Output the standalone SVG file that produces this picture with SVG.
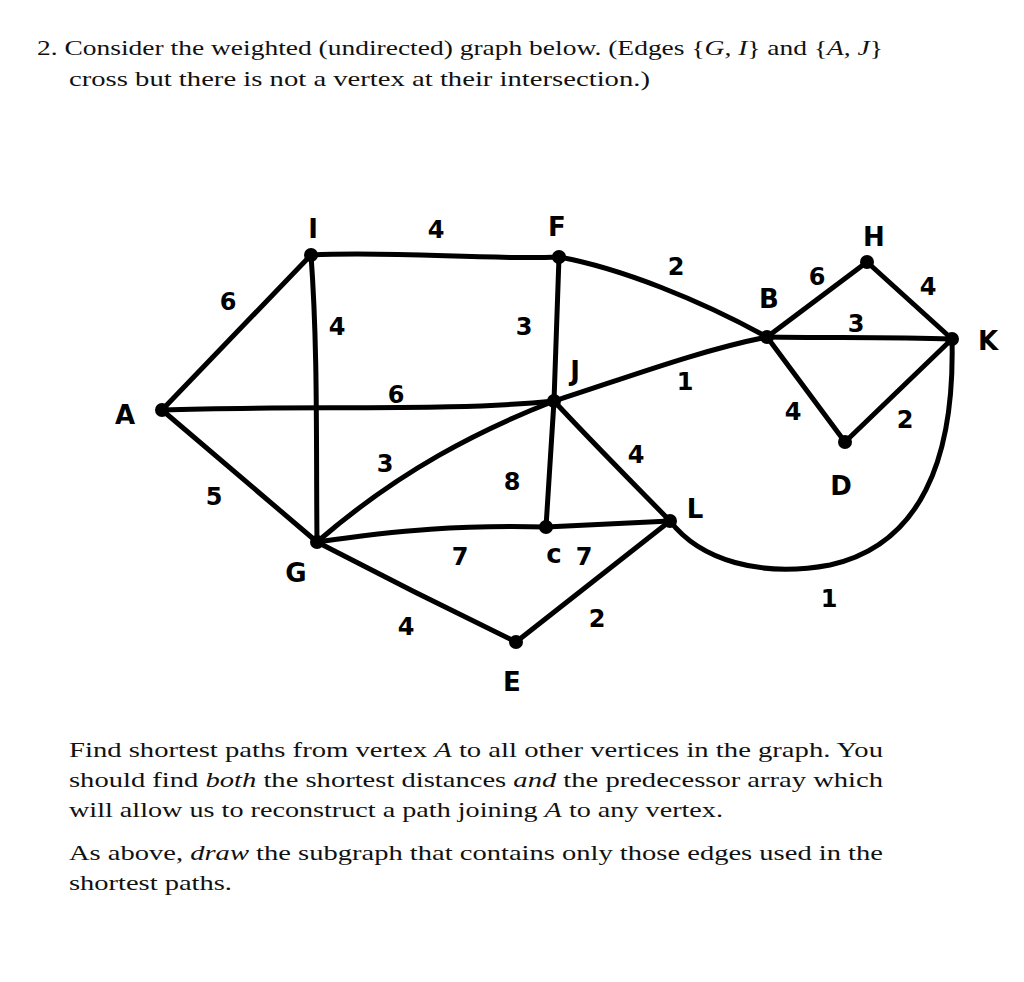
<svg xmlns="http://www.w3.org/2000/svg" width="1024" height="982" viewBox="0 0 1024 982">
<style>
.q{font-family:"Liberation Serif","DejaVu Serif",serif;font-size:22px;fill:#111}
.e{stroke:#000;stroke-width:5;fill:none;stroke-linecap:round;stroke-linejoin:round}
.v{fill:#000}
.lb{font-family:"DejaVu Sans","Liberation Sans",sans-serif;font-weight:bold;font-size:26px;fill:#000;text-anchor:middle}
.w{font-family:"DejaVu Sans","Liberation Sans",sans-serif;font-weight:bold;font-size:24px;fill:#000;text-anchor:middle}
</style>
<rect width="1024" height="982" fill="#fff"/>
<text class="q" x="37" y="55" textLength="846" lengthAdjust="spacingAndGlyphs">2.  Consider the weighted (undirected) graph below. (Edges {<tspan font-style="italic">G, I</tspan>} and {<tspan font-style="italic">A, J</tspan>}</text>
<text class="q" x="69" y="86" textLength="581" lengthAdjust="spacingAndGlyphs">cross but there is not a vertex at their intersection.)</text>
<g id="connectors">
<path class="e" d="M162,410 L311,255"/>
<path class="e" d="M162,410 C300,405 450,412 554,401"/>
<path class="e" d="M162,410 L317,542"/>
<path class="e" d="M311,255 C400,251 480,260 559,257"/>
<path class="e" d="M311,255 C318,350 316,450 317,542"/>
<path class="e" d="M559,257 L554,401"/>
<path class="e" d="M559,257 C620,268 700,300 767,337"/>
<path class="e" d="M554,401 C620,380 700,350 767,337"/>
<path class="e" d="M554,401 C480,430 400,470 317,542"/>
<path class="e" d="M554,401 L546,527"/>
<path class="e" d="M554,401 C590,440 630,480 670,521"/>
<path class="e" d="M317,542 C400,530 460,525 546,527 L670,521"/>
<path class="e" d="M317,542 C390,580 450,610 516,642"/>
<path class="e" d="M516,642 C570,600 620,560 670,521"/>
<path class="e" d="M767,337 L867,262 L952,339"/>
<path class="e" d="M767,337 C830,338 890,337 952,339"/>
<path class="e" d="M767,337 L845,442 L952,339"/>
<path class="e" d="M670,521 C700,560 760,578 830,565 C920,545 955,460 952,339"/>
</g>
<g id="node-A"><circle class="v" cx="162" cy="410" r="7"/><text class="lb" x="125" y="424">A</text></g>
<g id="node-I"><circle class="v" cx="311" cy="255" r="7"/><text class="lb" x="313" y="238">I</text></g>
<g id="node-F"><circle class="v" cx="559" cy="257" r="7"/><text class="lb" x="557" y="236">F</text></g>
<g id="node-J"><circle class="v" cx="554" cy="401" r="7"/><text class="lb" x="575" y="380">J</text></g>
<g id="node-B"><circle class="v" cx="767" cy="337" r="7"/><text class="lb" x="769" y="308">B</text></g>
<g id="node-H"><circle class="v" cx="867" cy="262" r="7"/><text class="lb" x="874" y="246">H</text></g>
<g id="node-K"><circle class="v" cx="952" cy="339" r="7"/><text class="lb" x="988" y="350">K</text></g>
<g id="node-D"><circle class="v" cx="845" cy="442" r="7"/><text class="lb" x="841" y="495">D</text></g>
<g id="node-L"><circle class="v" cx="670" cy="521" r="7"/><text class="lb" x="695" y="518">L</text></g>
<g id="node-C"><circle class="v" cx="546" cy="527" r="7"/><text class="lb" x="554" y="563">c</text></g>
<g id="node-G"><circle class="v" cx="317" cy="542" r="7"/><text class="lb" x="296" y="582">G</text></g>
<g id="node-E"><circle class="v" cx="516" cy="642" r="7"/><text class="lb" x="512" y="691">E</text></g>
<g id="weights">
<text class="w" x="436" y="238">4</text>
<text class="w" x="228" y="310">6</text>
<text class="w" x="337" y="335">4</text>
<text class="w" x="524" y="335">3</text>
<text class="w" x="676" y="275">2</text>
<text class="w" x="817" y="285">6</text>
<text class="w" x="928" y="295">4</text>
<text class="w" x="856" y="332">3</text>
<text class="w" x="685" y="390">1</text>
<text class="w" x="396" y="403">6</text>
<text class="w" x="793" y="420">4</text>
<text class="w" x="905" y="428">2</text>
<text class="w" x="385" y="472">3</text>
<text class="w" x="636" y="463">4</text>
<text class="w" x="512" y="490">8</text>
<text class="w" x="214" y="505">5</text>
<text class="w" x="460" y="565">7</text>
<text class="w" x="584" y="565">7</text>
<text class="w" x="406" y="635">4</text>
<text class="w" x="597" y="627">2</text>
<text class="w" x="829" y="607">1</text>
</g>
<text class="q" x="69" y="757" textLength="814" lengthAdjust="spacingAndGlyphs">Find shortest paths from vertex <tspan font-style="italic">A</tspan> to all other vertices in the graph. You</text>
<text class="q" x="69" y="787" textLength="814" lengthAdjust="spacingAndGlyphs">should find <tspan font-style="italic">both</tspan> the shortest distances <tspan font-style="italic">and</tspan> the predecessor array which</text>
<text class="q" x="69" y="817" textLength="654" lengthAdjust="spacingAndGlyphs">will allow us to reconstruct a path joining <tspan font-style="italic">A</tspan> to any vertex.</text>
<text class="q" x="69" y="860" textLength="814" lengthAdjust="spacingAndGlyphs">As above, <tspan font-style="italic">draw</tspan> the subgraph that contains only those edges used in the</text>
<text class="q" x="69" y="890" textLength="163" lengthAdjust="spacingAndGlyphs">shortest paths.</text>
</svg>
